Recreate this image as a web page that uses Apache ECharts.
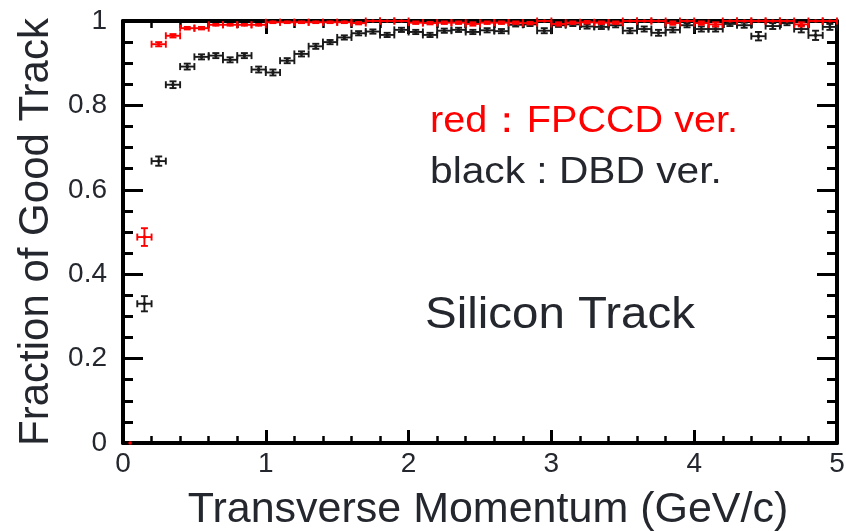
<!DOCTYPE html>
<html>
<head>
<meta charset="utf-8">
<script src="https://cdn.jsdelivr.net/npm/echarts@6/dist/echarts.min.js"></script>
<style>
html,body{margin:0;padding:0;background:#fff;}
#chart{width:846px;height:531px;}
</style>
</head>
<body>
<div id="chart"></div>
<script>
// Bin centres (GeV/c) and half bin width
const binCenters = [0.05,0.15,0.25,0.35,0.45,0.55,0.65,0.75,0.85,0.95,
  1.05,1.15,1.25,1.35,1.45,1.55,1.65,1.75,1.85,1.95,
  2.05,2.15,2.25,2.35,2.45,2.55,2.65,2.75,2.85,2.95,
  3.05,3.15,3.25,3.35,3.45,3.55,3.65,3.75,3.85,3.95,
  4.05,4.15,4.25,4.35,4.45,4.55,4.65,4.75,4.85,4.95];
const binHalfWidth = 0.05;

// black : DBD ver.
const dbdValues = [null,0.330,0.668,0.849,0.892,0.915,0.918,0.908,0.918,0.885,
  0.878,0.906,0.922,0.940,0.950,0.961,0.971,0.975,0.967,0.979,
  0.974,0.967,0.977,0.979,0.974,0.978,0.976,0.991,0.992,0.977,
  0.990,0.992,0.987,0.986,0.990,0.977,0.981,0.972,0.979,0.990,
  0.981,0.981,0.993,0.990,0.964,0.988,0.995,0.981,0.966,0.986];
const dbdErrors = [0,0.018,0.011,0.008,0.007,0.006,0.006,0.006,0.006,0.007,
  0.007,0.006,0.006,0.006,0.005,0.005,0.005,0.005,0.005,0.005,
  0.005,0.005,0.005,0.005,0.005,0.005,0.005,0.004,0.004,0.006,
  0.004,0.004,0.005,0.005,0.005,0.006,0.006,0.007,0.006,0.005,
  0.006,0.006,0.005,0.006,0.010,0.007,0.005,0.008,0.011,0.007];

// red : FPCCD ver.
const fpccdValues = [0.0,0.488,0.945,0.965,0.983,0.983,0.991,0.991,0.991,0.991,
  0.997,0.997,0.997,0.997,0.997,0.997,0.995,1.0,1.0,1.0,
  0.996,0.995,0.996,0.996,0.993,0.996,0.996,0.996,0.995,1.0,
  0.993,0.996,0.997,0.996,0.996,1.0,1.0,1.0,0.995,1.0,
  0.995,0.992,1.0,1.0,1.0,1.0,1.0,0.992,1.0,1.0];
const fpccdErrors = [0,0.021,0.005,0.004,0.003,0.003,0.002,0.002,0.002,0.002,
  0.002,0.002,0.002,0.002,0.002,0.002,0.003,0,0,0,
  0.003,0.003,0.003,0.003,0.004,0.003,0.003,0.003,0.003,0,
  0.004,0.003,0.003,0.003,0.003,0,0,0,0.004,0,
  0.004,0.005,0,0,0,0,0,0.005,0,0];

const xTicks = [0,1,2,3,4,5];
const yTicks = [0,0.2,0.4,0.6,0.8,1];

function buildData(vals, errs) {
  const out = [];
  for (let i = 0; i < binCenters.length; i++) {
    if (vals[i] === null) continue;
    out.push([binCenters[i], vals[i], errs[i], binHalfWidth]);
  }
  return out;
}

function makeRender(color) {
  return function (params, api) {
    const x = api.value(0), y = api.value(1), ey = api.value(2), ex = api.value(3);
    const c = api.coord([x, y]);
    const children = [
      { type: 'circle', shape: { cx: c[0], cy: c[1], r: 1.8 }, style: { fill: color } }
    ];
    if (y > 0) {
      const l = api.coord([x - ex, y]);
      const r = api.coord([x + ex, y]);
      const t = api.coord([x, y + ey]);
      const b = api.coord([x, y - ey]);
      const cap = 3.5;
      const st = { stroke: color, lineWidth: 1.9 };
      children.push(
        { type: 'line', shape: { x1: l[0], y1: c[1], x2: r[0], y2: c[1] }, style: st },
        { type: 'line', shape: { x1: l[0], y1: c[1] - cap, x2: l[0], y2: c[1] + cap }, style: st },
        { type: 'line', shape: { x1: r[0], y1: c[1] - cap, x2: r[0], y2: c[1] + cap }, style: st }
      );
      if (t[1] < c[1] - 0.5) {
        children.push(
          { type: 'line', shape: { x1: c[0], y1: t[1], x2: c[0], y2: b[1] }, style: st },
          { type: 'line', shape: { x1: c[0] - cap, y1: t[1], x2: c[0] + cap, y2: t[1] }, style: st },
          { type: 'line', shape: { x1: c[0] - cap, y1: b[1], x2: c[0] + cap, y2: b[1] }, style: st }
        );
      }
    }
    return { type: 'group', children: children };
  };
}

const textColor = '#25272e';
const fontFam = '"Liberation Sans", Arial, Helvetica, sans-serif';

function xAxisCfg(pos, showLabel) {
  return {
    type: 'value', position: pos, min: xTicks[0], max: xTicks[xTicks.length - 1], interval: 1,
    axisLine: { show: true, onZero: false, lineStyle: { color: '#000', width: 4 } },
    axisTick: { show: true, inside: true, length: 13, lineStyle: { color: '#000', width: 3 } },
    minorTick: { show: true, splitNumber: 5, length: 7, lineStyle: { color: '#000', width: 2.5 } },
    splitLine: { show: false }, minorSplitLine: { show: false },
    axisLabel: { show: showLabel, fontSize: 28, color: textColor, fontFamily: fontFam, margin: 7 },
    name: showLabel ? 'Transverse Momentum (GeV/c)' : '',
    nameLocation: 'middle', nameGap: 46,
    nameTextStyle: { fontSize: 43, color: textColor, fontFamily: fontFam, padding: [0, 0, 0, 16] }
  };
}
function yAxisCfg(pos, showLabel) {
  return {
    type: 'value', position: pos, min: yTicks[0], max: yTicks[yTicks.length - 1], interval: 0.2,
    axisLine: { show: true, onZero: false, lineStyle: { color: '#000', width: 4 } },
    axisTick: { show: true, inside: true, length: 20, lineStyle: { color: '#000', width: 3 } },
    minorTick: { show: true, splitNumber: 4, length: 10, lineStyle: { color: '#000', width: 3 } },
    splitLine: { show: false }, minorSplitLine: { show: false },
    axisLabel: { show: showLabel, fontSize: 28, color: textColor, fontFamily: fontFam, margin: 16 },
    name: showLabel ? 'Fraction of Good Track' : '',
    nameLocation: 'middle', nameGap: 65, nameRotate: 90,
    nameTextStyle: { fontSize: 42, color: textColor, fontFamily: fontFam }
  };
}

const chart = echarts.init(document.getElementById('chart'), null, { renderer: 'canvas' });
chart.setOption({
  animation: false,
  backgroundColor: '#fff',
  grid: { left: 123, right: 9, top: 21, bottom: 88, containLabel: false, outerBoundsMode: 'none' },
  xAxis: [xAxisCfg('bottom', true), xAxisCfg('top', false)],
  yAxis: [yAxisCfg('left', true), yAxisCfg('right', false)],
  series: [
    { type: 'custom', name: 'DBD', xAxisIndex: 0, yAxisIndex: 0, clip: false,
      renderItem: makeRender('#1a1a1a'), data: buildData(dbdValues, dbdErrors), z: 3 },
    { type: 'custom', name: 'FPCCD', xAxisIndex: 0, yAxisIndex: 0, clip: false,
      renderItem: makeRender('#ff0000'), data: buildData(fpccdValues, fpccdErrors), z: 4 }
  ],
  graphic: [
    { type: 'text', x: 430, y: 103, scaleX: 1.07, style: { text: 'red：FPCCD ver.', fill: '#ff0000', font: '37px ' + fontFam } },
    { type: 'text', x: 430, y: 154, scaleX: 1.1, style: { text: 'black : DBD ver.', fill: textColor, font: '37px ' + fontFam } },
    { type: 'text', x: 425, y: 293, scaleX: 1.055, style: { text: 'Silicon Track', fill: textColor, font: '45px ' + fontFam } }
  ]
});
</script>
</body>
</html>
